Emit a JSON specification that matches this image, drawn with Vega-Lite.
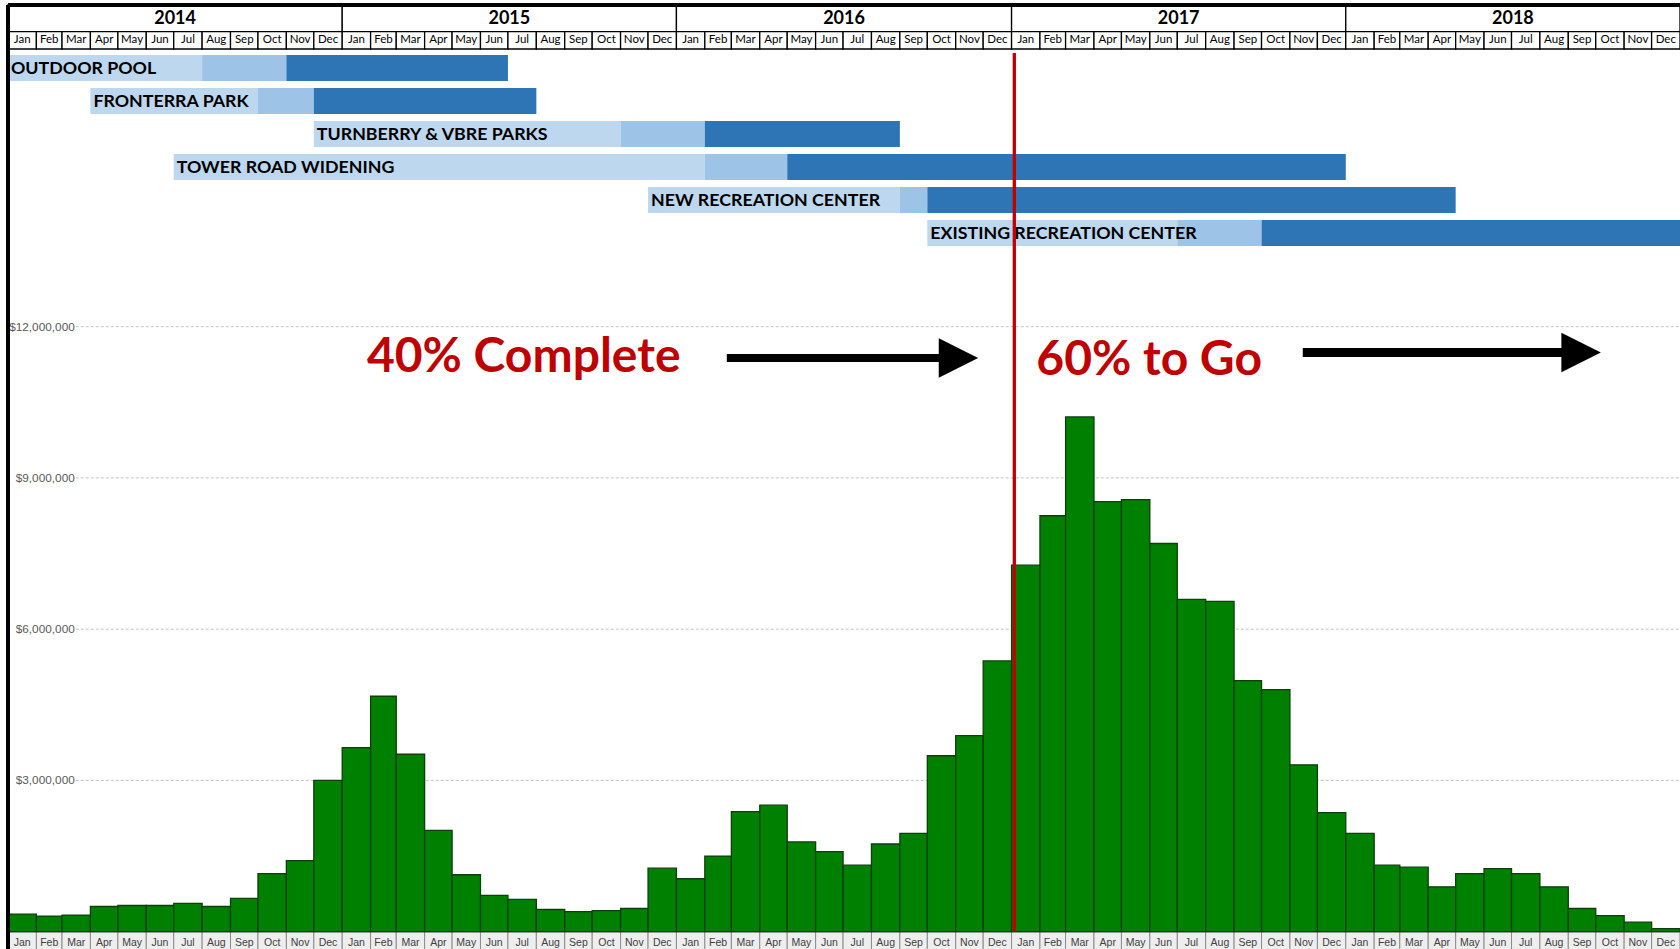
{
  "$schema": "https://vega.github.io/schema/vega-lite/v6.json",
  "width": 1672,
  "height": 944,
  "autosize": {"type": "none"},
  "padding": {"left": 8, "top": 5, "right": 0, "bottom": 0},
  "background": "white",
  "config": {"view": {"stroke": null}},
  "datasets": {
    "monthly": [
      {"month": "2014-01-01", "spend": 350000}, {"month": "2014-02-01", "spend": 310000}, {"month": "2014-03-01", "spend": 330000},
      {"month": "2014-04-01", "spend": 500000}, {"month": "2014-05-01", "spend": 520000}, {"month": "2014-06-01", "spend": 520000},
      {"month": "2014-07-01", "spend": 560000}, {"month": "2014-08-01", "spend": 500000}, {"month": "2014-09-01", "spend": 660000},
      {"month": "2014-10-01", "spend": 1150000}, {"month": "2014-11-01", "spend": 1410000}, {"month": "2014-12-01", "spend": 3000000},
      {"month": "2015-01-01", "spend": 3650000}, {"month": "2015-02-01", "spend": 4670000}, {"month": "2015-03-01", "spend": 3520000},
      {"month": "2015-04-01", "spend": 2010000}, {"month": "2015-05-01", "spend": 1130000}, {"month": "2015-06-01", "spend": 720000},
      {"month": "2015-07-01", "spend": 640000}, {"month": "2015-08-01", "spend": 440000}, {"month": "2015-09-01", "spend": 400000},
      {"month": "2015-10-01", "spend": 420000}, {"month": "2015-11-01", "spend": 460000}, {"month": "2015-12-01", "spend": 1260000},
      {"month": "2016-01-01", "spend": 1050000}, {"month": "2016-02-01", "spend": 1500000}, {"month": "2016-03-01", "spend": 2380000},
      {"month": "2016-04-01", "spend": 2510000}, {"month": "2016-05-01", "spend": 1780000}, {"month": "2016-06-01", "spend": 1590000},
      {"month": "2016-07-01", "spend": 1320000}, {"month": "2016-08-01", "spend": 1740000}, {"month": "2016-09-01", "spend": 1950000},
      {"month": "2016-10-01", "spend": 3490000}, {"month": "2016-11-01", "spend": 3890000}, {"month": "2016-12-01", "spend": 5370000},
      {"month": "2017-01-01", "spend": 7270000}, {"month": "2017-02-01", "spend": 8250000}, {"month": "2017-03-01", "spend": 10210000},
      {"month": "2017-04-01", "spend": 8530000}, {"month": "2017-05-01", "spend": 8570000}, {"month": "2017-06-01", "spend": 7700000},
      {"month": "2017-07-01", "spend": 6590000}, {"month": "2017-08-01", "spend": 6550000}, {"month": "2017-09-01", "spend": 4980000},
      {"month": "2017-10-01", "spend": 4800000}, {"month": "2017-11-01", "spend": 3310000}, {"month": "2017-12-01", "spend": 2360000},
      {"month": "2018-01-01", "spend": 1950000}, {"month": "2018-02-01", "spend": 1320000}, {"month": "2018-03-01", "spend": 1280000},
      {"month": "2018-04-01", "spend": 890000}, {"month": "2018-05-01", "spend": 1150000}, {"month": "2018-06-01", "spend": 1250000},
      {"month": "2018-07-01", "spend": 1150000}, {"month": "2018-08-01", "spend": 890000}, {"month": "2018-09-01", "spend": 460000},
      {"month": "2018-10-01", "spend": 320000}, {"month": "2018-11-01", "spend": 190000}, {"month": "2018-12-01", "spend": 60000}
    ],
    "years": [
      {"year": "2014-01-01"}, {"year": "2015-01-01"}, {"year": "2016-01-01"}, {"year": "2017-01-01"}, {"year": "2018-01-01"}
    ],
    "gantt": [
      {"project": "OUTDOOR POOL", "phase": "Design", "start": "2014-01-01", "end": "2014-08-01"},
      {"project": "OUTDOOR POOL", "phase": "Bid", "start": "2014-08-01", "end": "2014-11-01"},
      {"project": "OUTDOOR POOL", "phase": "Construction", "start": "2014-11-01", "end": "2015-07-01"},
      {"project": "FRONTERRA PARK", "phase": "Design", "start": "2014-04-01", "end": "2014-10-01"},
      {"project": "FRONTERRA PARK", "phase": "Bid", "start": "2014-10-01", "end": "2014-12-01"},
      {"project": "FRONTERRA PARK", "phase": "Construction", "start": "2014-12-01", "end": "2015-08-01"},
      {"project": "TURNBERRY & VBRE PARKS", "phase": "Design", "start": "2014-12-01", "end": "2015-11-01"},
      {"project": "TURNBERRY & VBRE PARKS", "phase": "Bid", "start": "2015-11-01", "end": "2016-02-01"},
      {"project": "TURNBERRY & VBRE PARKS", "phase": "Construction", "start": "2016-02-01", "end": "2016-09-01"},
      {"project": "TOWER ROAD WIDENING", "phase": "Design", "start": "2014-07-01", "end": "2016-02-01"},
      {"project": "TOWER ROAD WIDENING", "phase": "Bid", "start": "2016-02-01", "end": "2016-05-01"},
      {"project": "TOWER ROAD WIDENING", "phase": "Construction", "start": "2016-05-01", "end": "2018-01-01"},
      {"project": "NEW RECREATION CENTER", "phase": "Design", "start": "2015-12-01", "end": "2016-09-01"},
      {"project": "NEW RECREATION CENTER", "phase": "Bid", "start": "2016-09-01", "end": "2016-10-01"},
      {"project": "NEW RECREATION CENTER", "phase": "Construction", "start": "2016-10-01", "end": "2018-05-01"},
      {"project": "EXISTING RECREATION CENTER", "phase": "Design", "start": "2016-10-01", "end": "2017-07-01"},
      {"project": "EXISTING RECREATION CENTER", "phase": "Bid", "start": "2017-07-01", "end": "2017-10-01"},
      {"project": "EXISTING RECREATION CENTER", "phase": "Construction", "start": "2017-10-01", "end": "2019-01-01"}
    ],
    "ticks": [{"v": 3000000}, {"v": 6000000}, {"v": 9000000}, {"v": 12000000}],
    "milestone": [{"date": "2017-01-04", "label": "Today"}]
  },
  "resolve": {"scale": {"y": "independent"}},
  "layer": [
    {
      "data": {"name": "years"},
      "transform": [{"timeUnit": "utcyear", "field": "year", "as": "yr"}],
      "layer": [
        {
          "mark": {"type": "rect", "fill": "white", "stroke": "black", "strokeWidth": 1.3},
          "encoding": {
            "x": {"field": "yr", "type": "temporal", "axis": null, "scale": {"type": "utc", "nice": false, "domain": [{"year": 2014, "month": 1, "date": 1, "utc": true}, {"year": 2019, "month": 1, "date": 1, "utc": true}]}},
            "x2": {"field": "yr_end"},
            "y": {"datum": "Year", "type": "nominal", "axis": null, "scale": {"range": [0, 26.7], "paddingInner": 0, "paddingOuter": 0}}
          }
        },
        {
          "mark": {"type": "text", "font": "Lato", "fontWeight": "bold", "fontSize": 18, "align": "center", "baseline": "middle", "color": "black", "dy": 1},
          "encoding": {
            "x": {"field": "year", "timeUnit": "utcyear", "type": "temporal", "bandPosition": 0.5, "axis": null, "scale": {"type": "utc", "nice": false, "domain": [{"year": 2014, "month": 1, "date": 1, "utc": true}, {"year": 2019, "month": 1, "date": 1, "utc": true}]}},
            "y": {"datum": "Year", "type": "nominal", "axis": null},
            "text": {"field": "year", "timeUnit": "utcyear", "type": "temporal", "format": "%Y"}
          }
        }
      ]
    },
    {
      "data": {"name": "monthly"},
      "transform": [{"timeUnit": "utcyearmonth", "field": "month", "as": "m"}],
      "layer": [
        {
          "mark": {"type": "rect", "fill": "white", "stroke": "black", "strokeWidth": 1.3},
          "encoding": {
            "x": {"field": "m", "type": "temporal", "axis": null, "scale": {"type": "utc", "nice": false, "domain": [{"year": 2014, "month": 1, "date": 1, "utc": true}, {"year": 2019, "month": 1, "date": 1, "utc": true}]}},
            "x2": {"field": "m_end"},
            "y": {"datum": "Month", "type": "nominal", "axis": null, "scale": {"range": [26.7, 44], "paddingInner": 0, "paddingOuter": 0}}
          }
        },
        {
          "mark": {"type": "text", "font": "Lato", "fontSize": 11.5, "align": "center", "baseline": "middle", "color": "black"},
          "encoding": {
            "x": {"field": "month", "timeUnit": "utcyearmonth", "type": "temporal", "bandPosition": 0.5, "axis": null, "scale": {"type": "utc", "nice": false, "domain": [{"year": 2014, "month": 1, "date": 1, "utc": true}, {"year": 2019, "month": 1, "date": 1, "utc": true}]}},
            "y": {"datum": "Month", "type": "nominal", "axis": null},
            "text": {"field": "month", "timeUnit": "utcmonth", "type": "temporal", "format": "%b"}
          }
        }
      ]
    },
    {
      "data": {"name": "gantt"},
      "layer": [
        {
          "mark": {"type": "rect"},
          "encoding": {
            "x": {"field": "start", "type": "temporal", "axis": null, "scale": {"type": "utc", "nice": false, "domain": [{"year": 2014, "month": 1, "date": 1, "utc": true}, {"year": 2019, "month": 1, "date": 1, "utc": true}]}},
            "x2": {"field": "end"},
            "y": {"field": "project", "type": "nominal", "sort": null, "axis": null, "scale": {"range": [50, 241], "paddingInner": 0.212, "paddingOuter": 0}},
            "color": {"field": "phase", "type": "nominal", "legend": null, "scale": {"domain": ["Design", "Bid", "Construction"], "range": ["#BDD7EE", "#9DC3E6", "#2E75B6"]}}
          }
        },
        {
          "transform": [{"filter": "datum.phase === 'Design'"}],
          "mark": {"type": "text", "font": "Lato", "fontWeight": "bold", "fontSize": 17.8, "align": "left", "baseline": "middle", "dx": 3, "dy": 1, "color": "black"},
          "encoding": {
            "x": {"field": "start", "type": "temporal", "axis": null, "scale": {"type": "utc", "nice": false, "domain": [{"year": 2014, "month": 1, "date": 1, "utc": true}, {"year": 2019, "month": 1, "date": 1, "utc": true}]}},
            "y": {"field": "project", "type": "nominal", "sort": null, "axis": null},
            "text": {"field": "project", "type": "nominal"}
          }
        }
      ]
    },
    {
      "data": {"name": "monthly"},
      "transform": [{"timeUnit": "utcyearmonth", "field": "month", "as": "m"}],
      "layer": [
        {
          "mark": {"type": "rect", "fill": "#eeeeee", "stroke": "#8c8c8c", "strokeWidth": 1},
          "encoding": {
            "x": {"field": "m", "type": "temporal", "axis": null, "scale": {"type": "utc", "nice": false, "domain": [{"year": 2014, "month": 1, "date": 1, "utc": true}, {"year": 2019, "month": 1, "date": 1, "utc": true}]}},
            "x2": {"field": "m_end"},
            "y": {"datum": "Label", "type": "nominal", "axis": null, "scale": {"range": [927, 948], "paddingInner": 0, "paddingOuter": 0}}
          }
        },
        {
          "mark": {"type": "text", "font": "Liberation Sans", "fontSize": 10.5, "align": "center", "baseline": "middle", "color": "#404040"},
          "encoding": {
            "x": {"field": "month", "timeUnit": "utcyearmonth", "type": "temporal", "bandPosition": 0.5, "axis": null, "scale": {"type": "utc", "nice": false, "domain": [{"year": 2014, "month": 1, "date": 1, "utc": true}, {"year": 2019, "month": 1, "date": 1, "utc": true}]}},
            "y": {"datum": "Label", "type": "nominal", "axis": null},
            "text": {"field": "month", "timeUnit": "utcmonth", "type": "temporal", "format": "%b"}
          }
        }
      ]
    },
    {
      "layer": [
        {
          "data": {"name": "ticks"},
          "mark": {"type": "rule", "color": "#c4c4c4", "strokeWidth": 1, "strokeDash": [3, 2]},
          "encoding": {
            "x": {"datum": {"year": 2014, "month": 3, "date": 16, "utc": true}, "type": "temporal", "axis": null, "scale": {"type": "utc", "nice": false, "domain": [{"year": 2014, "month": 1, "date": 1, "utc": true}, {"year": 2019, "month": 1, "date": 1, "utc": true}]}},
            "x2": {"datum": {"year": 2019, "month": 1, "date": 1, "utc": true}},
            "y": {"field": "v", "type": "quantitative", "axis": null, "scale": {"domain": [-343000, 18380000], "nice": false, "zero": false}}
          }
        },
        {
          "data": {"name": "ticks"},
          "mark": {"type": "text", "font": "Liberation Sans", "fontSize": 11.8, "align": "right", "baseline": "middle", "dx": -1, "color": "#595959"},
          "encoding": {
            "x": {"datum": {"year": 2014, "month": 3, "date": 16, "utc": true}, "type": "temporal", "axis": null, "scale": {"type": "utc", "nice": false, "domain": [{"year": 2014, "month": 1, "date": 1, "utc": true}, {"year": 2019, "month": 1, "date": 1, "utc": true}]}},
            "y": {"field": "v", "type": "quantitative", "axis": null, "scale": {"domain": [-343000, 18380000], "nice": false, "zero": false}},
            "text": {"field": "v", "type": "quantitative", "format": "$,.0f"}
          }
        },
        {
          "data": {"name": "monthly"},
          "transform": [{"timeUnit": "utcyearmonth", "field": "month", "as": "m"}],
          "mark": {"type": "rect", "fill": "#008000", "stroke": "#0c3f0c", "strokeWidth": 1.3},
          "encoding": {
            "x": {"field": "m", "type": "temporal", "axis": null, "scale": {"type": "utc", "nice": false, "domain": [{"year": 2014, "month": 1, "date": 1, "utc": true}, {"year": 2019, "month": 1, "date": 1, "utc": true}]}},
            "x2": {"field": "m_end"},
            "y": {"field": "spend", "type": "quantitative", "axis": null, "scale": {"domain": [-343000, 18380000], "nice": false, "zero": false}},
            "y2": {"datum": 0}
          }
        },
        {
          "data": {"name": "milestone"},
          "mark": {"type": "rule", "color": "#C00000", "strokeWidth": 3.3},
          "encoding": {
            "x": {"field": "date", "type": "temporal", "axis": null, "scale": {"type": "utc", "nice": false, "domain": [{"year": 2014, "month": 1, "date": 1, "utc": true}, {"year": 2019, "month": 1, "date": 1, "utc": true}]}},
            "y": {"datum": 0, "type": "quantitative", "axis": null, "scale": {"domain": [-343000, 18380000], "nice": false, "zero": false}},
            "y2": {"datum": 17430000}
          }
        },
        {
          "data": {"values": [{}]},
          "mark": {"type": "text", "text": "40% Complete", "font": "Lato", "fontWeight": "bold", "fontSize": 48, "align": "left", "baseline": "alphabetic", "color": "#C00000"},
          "encoding": {
            "x": {"datum": {"year": 2015, "month": 1, "date": 28, "utc": true}, "type": "temporal", "axis": null, "scale": {"type": "utc", "nice": false, "domain": [{"year": 2014, "month": 1, "date": 1, "utc": true}, {"year": 2019, "month": 1, "date": 1, "utc": true}]}},
            "y": {"datum": 11110000, "type": "quantitative", "axis": null, "scale": {"domain": [-343000, 18380000], "nice": false, "zero": false}}
          }
        },
        {
          "data": {"values": [{}]},
          "mark": {"type": "text", "text": "60% to Go", "font": "Lato", "fontWeight": "bold", "fontSize": 48, "align": "left", "baseline": "alphabetic", "color": "#C00000"},
          "encoding": {
            "x": {"datum": {"year": 2017, "month": 1, "date": 28, "utc": true}, "type": "temporal", "axis": null, "scale": {"type": "utc", "nice": false, "domain": [{"year": 2014, "month": 1, "date": 1, "utc": true}, {"year": 2019, "month": 1, "date": 1, "utc": true}]}},
            "y": {"datum": 11040000, "type": "quantitative", "axis": null, "scale": {"domain": [-343000, 18380000], "nice": false, "zero": false}}
          }
        },
        {
          "data": {"values": [{}]},
          "mark": {"type": "rule", "color": "black", "strokeWidth": 8},
          "encoding": {
            "x": {"datum": {"year": 2016, "month": 2, "date": 25, "utc": true}, "type": "temporal", "axis": null, "scale": {"type": "utc", "nice": false, "domain": [{"year": 2014, "month": 1, "date": 1, "utc": true}, {"year": 2019, "month": 1, "date": 1, "utc": true}]}},
            "x2": {"datum": {"year": 2016, "month": 10, "date": 15, "utc": true}},
            "y": {"datum": 11380000, "type": "quantitative", "axis": null, "scale": {"domain": [-343000, 18380000], "nice": false, "zero": false}}
          }
        },
        {
          "data": {"values": [{}]},
          "mark": {"type": "point", "shape": "M-1,-1L1,0L-1,1Z", "filled": true, "size": 1552, "color": "black", "opacity": 1, "strokeWidth": 0},
          "encoding": {
            "x": {"datum": {"year": 2016, "month": 11, "date": 4, "utc": true}, "type": "temporal", "axis": null, "scale": {"type": "utc", "nice": false, "domain": [{"year": 2014, "month": 1, "date": 1, "utc": true}, {"year": 2019, "month": 1, "date": 1, "utc": true}]}},
            "y": {"datum": 11380000, "type": "quantitative", "axis": null, "scale": {"domain": [-343000, 18380000], "nice": false, "zero": false}}
          }
        },
        {
          "data": {"values": [{}]},
          "mark": {"type": "rule", "color": "black", "strokeWidth": 9},
          "encoding": {
            "x": {"datum": {"year": 2017, "month": 11, "date": 15, "utc": true}, "type": "temporal", "axis": null, "scale": {"type": "utc", "nice": false, "domain": [{"year": 2014, "month": 1, "date": 1, "utc": true}, {"year": 2019, "month": 1, "date": 1, "utc": true}]}},
            "x2": {"datum": {"year": 2018, "month": 8, "date": 28, "utc": true}},
            "y": {"datum": 11490000, "type": "quantitative", "axis": null, "scale": {"domain": [-343000, 18380000], "nice": false, "zero": false}}
          }
        },
        {
          "data": {"values": [{}]},
          "mark": {"type": "point", "shape": "M-1,-1L1,0L-1,1Z", "filled": true, "size": 1560, "color": "black", "opacity": 1, "strokeWidth": 0},
          "encoding": {
            "x": {"datum": {"year": 2018, "month": 9, "date": 15, "utc": true}, "type": "temporal", "axis": null, "scale": {"type": "utc", "nice": false, "domain": [{"year": 2014, "month": 1, "date": 1, "utc": true}, {"year": 2019, "month": 1, "date": 1, "utc": true}]}},
            "y": {"datum": 11490000, "type": "quantitative", "axis": null, "scale": {"domain": [-343000, 18380000], "nice": false, "zero": false}}
          }
        },
        {
          "data": {"values": [{}]},
          "mark": {"type": "rule", "color": "black", "strokeWidth": 4},
          "encoding": {
            "x": {"datum": {"year": 2014, "month": 1, "date": 1, "utc": true}, "type": "temporal", "axis": null, "scale": {"type": "utc", "nice": false, "domain": [{"year": 2014, "month": 1, "date": 1, "utc": true}, {"year": 2019, "month": 1, "date": 1, "utc": true}]}}
          }
        },
        {
          "data": {"values": [{}]},
          "mark": {"type": "rule", "color": "black", "strokeWidth": 4},
          "encoding": {
            "y": {"datum": 18380000, "type": "quantitative", "axis": null, "scale": {"domain": [-343000, 18380000], "nice": false, "zero": false}}
          }
        }
      ]
    }
  ]
}
